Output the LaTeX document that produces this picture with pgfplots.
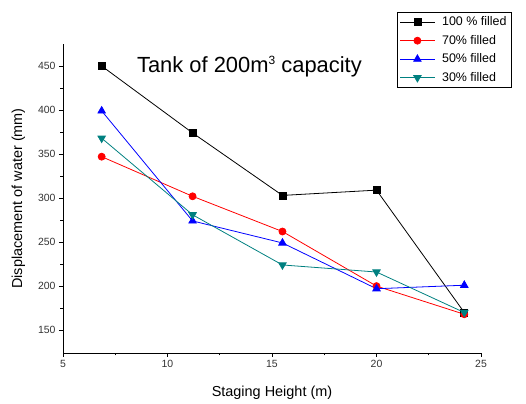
\documentclass[border=0pt]{standalone}
\usepackage{pgfplots}
\pgfplotsset{compat=1.18}
\usepackage{fontspec}
\setmainfont{Liberation Sans}
\definecolor{tealc}{RGB}{0,128,128}
\begin{document}
\begin{tikzpicture}[x=1bp,y=1bp]
\begin{axis}[
  at={(63bp,51bp)}, anchor=south west,
  scale only axis, width=418bp, height=309bp,
  xmin=5, xmax=25, ymin=124, ymax=475,
  axis x line*=bottom, axis y line*=left,
  xtick={5,10,15,20,25}, ytick={150,200,...,450},
  minor x tick num=1, minor y tick num=1,
  tick align=outside, major tick length=4bp, minor tick length=2.5bp,
  tick style={black, line width=0.6pt},
  axis line style={line width=0.8pt},
  /pgf/number format/assume math mode=true,
  ticklabel style={font=\fontsize{10.5}{12}\selectfont, text=black!80},
  xlabel={Staging Height (m)}, ylabel={Displacement of water (mm)},
  label style={font=\fontsize{14.5}{16}\selectfont},
  xlabel style={yshift=-11bp},
  ylabel style={yshift=6bp},
  legend style={at={(0.799,1.103)}, anchor=north west, draw=black, line width=0.5pt,
     font=\fontsize{12.5}{14}\selectfont, row sep=4bp, inner sep=2.5bp},
  legend image code/.code={\draw[mark repeat=2,mark phase=2] plot coordinates {(0cm,0cm) (0.61cm,0cm) (1.22cm,0cm)};},
  legend cell align=left,
  every axis plot/.append style={line width=0.8pt},
]
\addplot[black, mark=square*, mark size=3.5bp] coordinates {(6.85,450) (11.2,374) (15.5,303) (20,309) (24.2,170)};
\addlegendentry{\hspace{5bp}100 \% filled\hspace{6bp}}
\addplot[red, mark=*, mark size=3.5bp] coordinates {(6.85,347) (11.2,302) (15.5,262) (20,200) (24.2,168)};
\addlegendentry{\hspace{5bp}70\% filled}
\addplot[blue, mark=triangle*, mark size=4.3bp] coordinates {(6.85,399) (11.2,274) (15.5,249) (20,197) (24.2,201)};
\addlegendentry{\hspace{5bp}50\% filled}
\addplot[tealc, mark=triangle*, mark options={rotate=180}, mark size=4.3bp] coordinates {(6.85,368) (11.2,281) (15.5,224) (20,216) (24.2,170)};
\addlegendentry{\hspace{5bp}30\% filled}
\node[anchor=base, font=\fontsize{22}{26}\selectfont] at (axis cs:13.92,443) {Tank of 200m\raisebox{8bp}{\fontsize{12}{12}\selectfont 3} capacity};
\end{axis}
\pgfresetboundingbox
\path (0,0) rectangle (526bp,404bp);
\end{tikzpicture}
\end{document}
